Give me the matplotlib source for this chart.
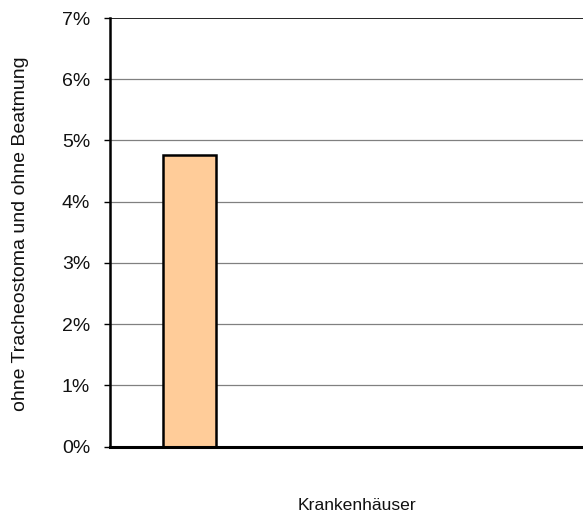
import matplotlib
matplotlib.use("Agg")
import matplotlib.pyplot as plt
from matplotlib.ticker import FuncFormatter

plt.rcParams['font.family'] = ['Liberation Sans', 'DejaVu Sans']

# data
kh_pos = [0.168]
anteil = [4.77]
yticks = [0, 1, 2, 3, 4, 5, 6, 7]

fig = plt.figure(figsize=(5.83, 5.15), dpi=100)
ax = fig.add_axes([0.1887, 0.133, 0.8113, 0.832])

for t in yticks[1:-1]:
    ax.axhline(t, color='#808080', lw=0.9, zorder=0)
ax.axhline(7, color='black', lw=1.2, zorder=0)

ax.bar(kh_pos, anteil, width=0.112, color='#FFCC99', edgecolor='black', lw=1.8, zorder=2)

ax.set_xlim(0, 1)
ax.set_ylim(0, 7)
ax.set_yticks(yticks)
ax.yaxis.set_major_formatter(FuncFormatter(lambda v, p: '%d%%' % v))
ax.set_xticks([])
ax.tick_params(axis='y', length=4.3, width=1.0, labelsize=14, pad=10, labelcolor='#111111')

for s in ['top', 'right']:
    ax.spines[s].set_visible(False)
ax.spines['left'].set_linewidth(1.8)
ax.spines['bottom'].set_linewidth(2.2)

fig.text(0.613, 0.0175, 'Krankenhäuser', ha='center', va='center', fontsize=12.6, color='#111111')
fig.text(0.036, 0.546, 'ohne Tracheostoma und ohne Beatmung', rotation=90,
         ha='center', va='center', fontsize=14, color='#111111')

fig.savefig('out.png', dpi=100)
